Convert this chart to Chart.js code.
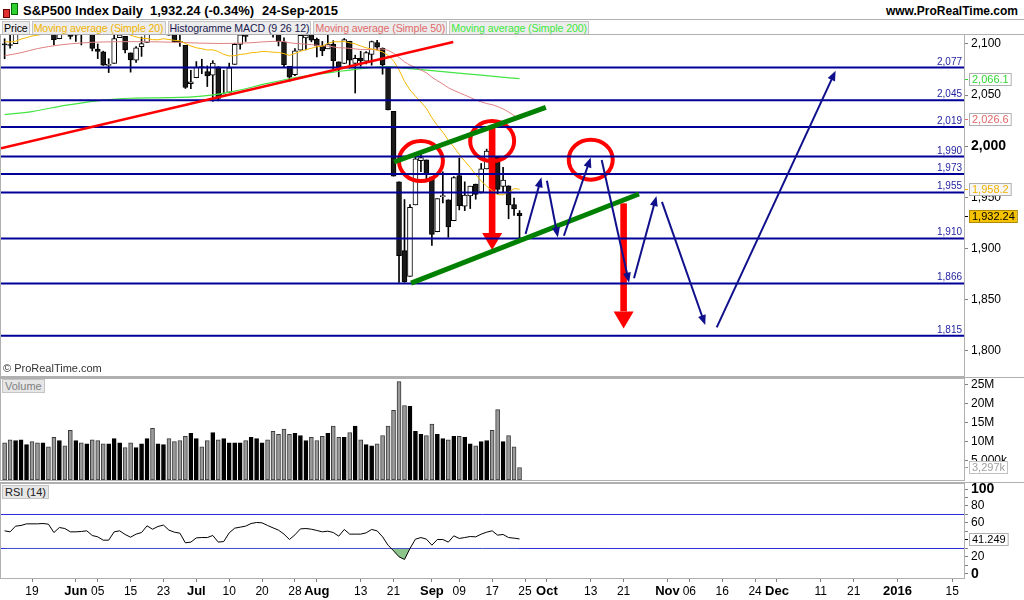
<!DOCTYPE html>
<html>
<head>
<meta charset="utf-8">
<title>S&P500 Index Daily</title>
<script src="https://cdn.jsdelivr.net/npm/chart.js@4.4.1/dist/chart.umd.min.js"></script>
<style>
  body { margin: 0; background: #fff; font-family: "Liberation Sans", Arial, sans-serif; }
  #page { position: relative; width: 1024px; height: 600px; overflow: hidden; background: #fff; }
  #page canvas { position: absolute; left: 0; }
  .hd { position: absolute; top: 3px; font-size: 13px; font-weight: bold; white-space: nowrap; }
  #legend { position: absolute; left: 2px; top: 21px; display: flex; gap: 2px; }
  #legend span { height: 12px; font-size: 10.6px; line-height: 12px; background: #ececec; letter-spacing: -0.1px;
        border: 1px solid #c4c4c4; white-space: nowrap; padding: 0 1px; }
  .frame { position: absolute; border: 1px solid #b0b0b0; pointer-events: none; box-sizing: border-box; }
  .sep { position: absolute; left: 0; width: 1024px; height: 1px; background: #b0b0b0; }
  .tag { position: absolute; left: 2px; font-size: 11px; line-height: 12px; padding: 0 2px; background: #e6e6e6;
         border: 1px solid #c4c4c4; white-space: nowrap; }
</style>
</head>
<body>
<div id="page">
  <!-- header -->
  <div style="position:absolute;left:3px;top:9px;width:5px;height:7px;background:#e03030;border:1px solid #600"></div>
  <div style="position:absolute;left:11px;top:3px;width:5px;height:10px;background:#30d030;border:1px solid #060"></div>
  <div class="hd" style="left:23px">S&amp;P500 Index</div>
  <div class="hd" style="left:112px">Daily</div>
  <div class="hd" style="left:150px">1,932.24 (-0.34%)</div>
  <div class="hd" style="left:262px">24-Sep-2015</div>
  <div class="hd" style="right:6px;top:4px;font-size:12px">www.ProRealTime.com</div>
  <div class="sep" style="top:19px"></div>

  <div id="legend">
    <span style="color:#000">Price</span>
    <span style="color:#f0b400">Moving average (Simple 20)</span>
    <span style="color:#1a1a50">Histogramme MACD (9 26 12)</span>
    <span style="color:#e06a6a">Moving average (Simple 50)</span>
    <span style="color:#40e840">Moving average (Simple 200)</span>
  </div>
  <div class="sep" style="top:34px"></div>

  <canvas id="price" width="1024" height="342" style="top:34px"></canvas>
  <canvas id="vol" width="1024" height="102" style="top:378px"></canvas>
  <canvas id="rsi" width="1024" height="117" style="top:483px"></canvas>

  <div class="frame" style="left:0;top:34px;width:965px;height:343px"></div>
  <div class="sep" style="top:377px"></div>
  <div class="frame" style="left:0;top:378px;width:965px;height:103px"></div>
  <div class="sep" style="top:482px"></div>
  <div class="frame" style="left:0;top:483px;width:965px;height:96px"></div>

  <div class="tag" style="top:379px;color:#808080">Volume</div>
  <div class="tag" style="top:485px;color:#202020">RSI (14)</div>
</div>

<script>
// trading days shown on the axis (Jan 1 2016 is kept by the chart, other holidays are skipped)
const holidays = ['2015-05-25', '2015-07-03', '2015-09-07', '2015-11-26', '2015-12-25'];

const tickDates = ['2015-05-19', '2015-06-01', '2015-06-05', '2015-06-15', '2015-06-23', '2015-07-01', '2015-07-10',
  '2015-07-20', '2015-07-28', '2015-08-03', '2015-08-13', '2015-08-21', '2015-09-01', '2015-09-09', '2015-09-17',
  '2015-09-25', '2015-10-01', '2015-10-13', '2015-10-21', '2015-11-02', '2015-11-06', '2015-11-16', '2015-11-24',
  '2015-12-01', '2015-12-11', '2015-12-21', '2016-01-01', '2016-01-15'];
const tickLabels = ['19', 'Jun', '05', '15', '23', 'Jul', '10', '20', '28', 'Aug', '13', '21', 'Sep', '09', '17',
  '25', 'Oct', '13', '21', 'Nov', '06', '16', '24', 'Dec', '11', '21', '2016', '15'];
const boldLabels = ['Jun', 'Jul', 'Aug', 'Sep', 'Oct', 'Nov', 'Dec', '2016'];

// daily candles, 12-May-2015 .. 24-Sep-2015
const opens = [2099.6, 2099.0, 2100.4, 2122.1, 2121.3, 2129.5, 2127.8, 2125.6, 2130.4, 2125.3,
  2105.1, 2122.3, 2120.7, 2108.6, 2110.4, 2110.6, 2112.4, 2095.1, 2092.3, 2079.1,
  2081.1, 2106.2, 2107.4, 2091.3, 2084.3, 2097.4, 2101.6, 2121.1, 2112.5, 2123.2,
  2123.7, 2110.0, 2102.6, 2098.6, 2061.2, 2067.0, 2078.0, 2073.0, 2069.5, 2077.7,
  2049.7, 2052.7, 2080.0, 2099.7, 2109.0, 2110.6, 2126.8, 2126.9, 2127.3, 2118.2,
  2114.2, 2102.2, 2078.2, 2070.0, 2094.0, 2106.0, 2111.6, 2104.5, 2097.7, 2095.3,
  2100.0, 2082.6, 2080.9, 2102.7, 2081.1, 2086.2, 2083.2, 2089.7, 2101.5, 2095.7,
  2076.6, 2034.1, 1965.2, 1898.1, 1872.8, 1942.8, 1986.1, 1986.7, 1970.1, 1916.5,
  1950.8, 1947.8, 1927.3, 1971.5, 1941.6, 1951.5, 1963.1, 1955.1, 1978.0, 1995.3,
  1989.7, 1960.8, 1961.4, 1943.2, 1934.6];
const highs = [2105.1, 2110.2, 2121.5, 2123.9, 2131.8, 2133.0, 2134.7, 2131.8, 2132.2, 2125.3,
  2126.2, 2122.3, 2120.7, 2119.2, 2117.6, 2121.9, 2112.9, 2100.0, 2093.0, 2085.6,
  2108.5, 2115.0, 2107.4, 2091.3, 2097.4, 2106.8, 2126.7, 2121.6, 2129.9, 2125.1,
  2125.1, 2116.0, 2108.9, 2098.6, 2074.3, 2082.8, 2085.1, 2078.6, 2083.7, 2077.7,
  2074.3, 2081.3, 2100.7, 2111.4, 2114.1, 2124.4, 2128.9, 2132.8, 2128.5, 2119.4,
  2116.9, 2106.0, 2078.2, 2095.6, 2110.6, 2110.5, 2114.2, 2105.7, 2102.5, 2112.7,
  2103.3, 2082.6, 2105.4, 2102.7, 2089.1, 2092.9, 2092.5, 2102.9, 2103.5, 2096.2,
  2076.6, 2034.1, 1965.2, 1948.0, 1943.1, 1989.6, 1993.5, 1986.7, 1970.1, 1948.9,
  1975.0, 1947.8, 1970.4, 1988.6, 1965.3, 1961.1, 1963.1, 1983.2, 1997.3, 2020.9,
  1989.7, 1979.6, 1961.4, 1949.5, 1937.2];
const lows = [2085.6, 2096.0, 2100.4, 2116.8, 2120.0, 2124.5, 2122.6, 2120.9, 2126.1, 2099.2,
  2105.1, 2112.9, 2104.9, 2102.5, 2099.1, 2109.6, 2093.2, 2085.7, 2079.1, 2072.1,
  2081.1, 2106.2, 2091.3, 2072.5, 2082.1, 2087.9, 2101.6, 2109.5, 2112.5, 2119.0,
  2108.6, 2101.8, 2097.7, 2056.6, 2056.3, 2067.0, 2071.0, 2058.4, 2044.0, 2044.5,
  2049.3, 2052.7, 2080.0, 2095.0, 2102.5, 2110.6, 2119.9, 2123.7, 2115.4, 2106.6,
  2098.1, 2077.1, 2063.5, 2069.1, 2094.0, 2094.1, 2102.1, 2087.3, 2088.6, 2095.3,
  2075.5, 2067.9, 2080.9, 2076.5, 2052.1, 2078.3, 2080.6, 2079.3, 2094.1, 2070.5,
  2035.7, 1970.9, 1867.0, 1867.1, 1872.8, 1942.8, 1975.2, 1966.0, 1903.1, 1916.5,
  1944.7, 1911.2, 1927.3, 1937.9, 1937.2, 1939.2, 1948.3, 1954.3, 1977.9, 1986.7,
  1953.5, 1955.8, 1929.2, 1932.6, 1908.9];
const closes = [2099.1, 2098.5, 2121.1, 2122.7, 2129.2, 2127.8, 2125.9, 2130.8, 2126.1, 2104.2,
  2123.5, 2120.8, 2107.4, 2111.7, 2109.6, 2114.1, 2095.8, 2092.8, 2079.3, 2080.2,
  2105.2, 2108.9, 2094.1, 2084.4, 2096.3, 2100.4, 2121.2, 2110.0, 2122.9, 2124.2,
  2108.6, 2102.3, 2101.5, 2057.6, 2063.1, 2077.4, 2076.8, 2068.8, 2081.3, 2046.7,
  2051.3, 2076.6, 2099.6, 2109.0, 2107.4, 2124.3, 2126.6, 2128.3, 2119.2, 2114.2,
  2102.2, 2079.7, 2067.6, 2093.3, 2108.57, 2108.63, 2103.8, 2098.0, 2093.3, 2099.8,
  2083.6, 2077.6, 2104.2, 2084.1, 2086.1, 2083.4, 2091.5, 2102.4, 2096.9, 2079.6,
  2035.7, 1970.9, 1893.2, 1867.6, 1940.5, 1987.7, 1988.9, 1972.2, 1913.9, 1948.9,
  1951.1, 1921.2, 1969.4, 1942.0, 1952.3, 1961.1, 1953.0, 1978.1, 1995.3, 1990.2,
  1958.0, 1967.0, 1942.7, 1938.8, 1932.24];
const prevClose = 2105.3; // close before the first candle

// moving averages
const ma20 = [2102.3, 2101.9, 2102.7, 2104.8, 2106.2, 2107.8, 2108.6, 2109.5, 2110.0, 2109.7,
  2110.2, 2110.9, 2111.9, 2112.1, 2111.9, 2113.1, 2113.9, 2114.1, 2112.3, 2111.0,
  2111.3, 2111.9, 2110.5, 2108.6, 2106.9, 2105.6, 2105.3, 2104.3, 2104.1, 2105.1,
  2104.4, 2103.5, 2103.2, 2100.5, 2098.1, 2096.3, 2095.4, 2094.2, 2094.3, 2092.6,
  2089.9, 2088.3, 2088.6, 2089.8, 2090.3, 2091.5, 2091.8, 2092.7, 2092.5, 2092.0,
  2091.7, 2090.6, 2088.9, 2090.7, 2092.9, 2094.5, 2095.8, 2097.3, 2097.9, 2100.6,
  2102.2, 2102.2, 2102.5, 2101.2, 2100.1, 2098.1, 2096.3, 2095.1, 2093.9, 2092.2,
  2088.9, 2083.5, 2074.7, 2063.5, 2055.1, 2049.0, 2043.3, 2037.0, 2028.0, 2020.4,
  2013.8, 2006.0, 1999.3, 1992.2, 1985.5, 1979.4, 1972.4, 1966.2, 1961.1, 1956.7,
  1952.8, 1952.6, 1955.1, 1958.6, 1958.2];
const ma50Days = [0, 3, 6, 10, 14, 18, 25, 32, 39, 45,
  49, 50, 51, 52, 53, 54, 55, 56, 57, 58, 59, 60, 61, 62, 63, 64, 65, 66, 67, 68, 69, 70, 71,
  72, 73, 74, 75, 76, 77, 78, 79, 80, 81, 82, 83, 84, 85, 86, 87, 88, 89, 90, 91, 92, 93, 94];
const ma50 = [2088.5, 2091.5, 2095.5, 2099.0, 2101.0, 2102.0, 2102.3, 2101.5, 2100.5, 2101.2,
  2102.6, 2102.6, 2102.3, 2101.2, 2100.6, 2100.2, 2099.8, 2099.4, 2098.7, 2098.1, 2098.0, 2097.2,
  2096.3, 2096.2, 2095.7, 2095.2, 2094.6, 2094.5, 2094.7, 2095.1, 2095.1, 2093.7, 2090.9,
  2086.9, 2082.6, 2079.4, 2077.2, 2074.5, 2071.8, 2067.6, 2064.1, 2060.9, 2057.3, 2054.7,
  2052.4, 2050.1, 2047.8, 2045.3, 2043.5, 2041.8, 2040.7, 2038.8, 2036.6, 2033.5, 2030.1, 2026.6];
const ma200Days = [0, 5, 11, 17, 23, 30, 36, 42, 48, 54, 60, 66, 70, 72, 80, 87, 94];
const ma200 = [2031.0, 2034.0, 2040.0, 2044.5, 2047.0, 2047.5, 2049.0, 2054.0, 2061.5, 2068.0,
  2072.5, 2076.5, 2078.0, 2077.0, 2073.0, 2069.5, 2066.1];

// volume (millions) and RSI(14)
const volumes = [9.8, 10.6, 10.4, 10.6, 9.3, 10.1, 9.8, 9.8, 8.7, 11.2,
  10.4, 9.0, 13.1, 10.4, 9.8, 9.5, 10.6, 10.4, 9.5, 9.5,
  10.9, 9.8, 8.5, 9.8, 8.5, 9.5, 10.9, 13.6, 9.5, 9.3,
  10.9, 10.1, 10.4, 11.5, 12.3, 10.9, 8.7, 10.4, 12.5, 10.6,
  10.9, 9.8, 9.8, 9.8, 10.4, 11.2, 10.9, 9.8, 10.6, 12.8,
  12.0, 13.4, 12.0, 12.3, 11.7, 10.4, 11.2, 10.4, 11.5, 12.3,
  14.2, 11.2, 11.2, 12.5, 14.2, 10.6, 9.3, 9.0, 9.5, 11.7,
  14.2, 18.3, 25.9, 19.6, 19.4, 12.8, 12.0, 11.7, 14.7, 12.0,
  10.9, 10.6, 11.5, 11.5, 11.2, 9.5, 9.0, 10.1, 10.4, 13.1,
  18.5, 10.1, 11.7, 8.7, 3.297];
const rsi = [50.8, 49.6, 56.3, 57.1, 59.0, 59.0, 59.0, 59.4, 58.6, 48.8,
  54.7, 53.5, 49.6, 49.6, 50.0, 50.8, 45.3, 43.7, 39.8, 39.8,
  49.6, 50.8, 46.5, 43.3, 46.9, 48.8, 56.7, 52.7, 55.9, 57.5,
  51.6, 49.2, 48.0, 36.7, 37.5, 42.5, 42.9, 42.9, 45.3, 37.5,
  38.2, 48.4, 53.9, 55.1, 56.3, 59.4, 60.6, 60.2, 57.1, 54.3,
  51.6, 46.9, 40.6, 46.1, 53.1, 53.5, 52.7, 51.2, 49.6, 50.4,
  48.8, 44.5, 52.4, 46.9, 46.9, 46.9, 48.4, 52.4, 50.8, 43.7,
  33.9, 27.3, 20.2, 17.1, 30.0, 41.0, 42.9, 41.0, 33.9, 40.6,
  40.6, 37.5, 44.9, 41.8, 42.9, 44.1, 43.7, 46.9, 49.2, 50.8,
  45.7, 46.5, 42.9, 42.2, 41.249];

// axis ticks
const priceTicks = [1800, 1850, 1900, 1950, 2000, 2050, 2100];
const volTicks = [5, 10, 15, 20, 25];
const rsiTicks = [0, 10, 20, 30, 40, 50, 60, 70, 80, 90, 100];

// drawings on the price panel (x = trading-day index, y = price)
const levels = [2077, 2045, 2019, 1990, 1973, 1955, 1910, 1866, 1815];
const redTrend = [[-0.66, 1998.1], [81.9, 2102.0]];
const greenTop = [[71.1, 1984.7], [98.8, 2038.1]];
const greenLow = [[74.2, 1866.4], [115.8, 1953.4]];
const circles = [[76.0, 1985.6], [89.0, 2005.2], [107.0, 1987.0]];
const redArrows = [[89.0, 2020.8, 1898.6], [113.0, 1944.3, 1822.1]];
const blueArrows = [[95.1, 1914.3, 98.0, 1969.7], [99.0, 1966.4, 101.0, 1911.0],
  [102.1, 1912.6, 107.0, 1989.2], [109.0, 1986.6, 114.0, 1866.7], [114.9, 1871.0, 119.0, 1951.4],
  [120.0, 1945.8, 127.9, 1825.3], [130.0, 1823.1, 151.7, 2073.9]];

const X_MIN = -0.66, X_MAX = 175.14;
const FONT = '"Liberation Sans", Arial, sans-serif';

function tradingDays(start, end) {
  const out = [];
  const d = new Date(start + 'T12:00:00Z');
  const stop = new Date(end + 'T12:00:00Z');
  while (d <= stop) {
    const wd = d.getUTCDay();
    const s = d.toISOString().slice(0, 10);
    if (wd !== 0 && wd !== 6 && !holidays.includes(s)) out.push(s);
    d.setUTCDate(d.getUTCDate() + 1);
  }
  return out;
}
const days = tradingDays('2015-05-12', '2016-01-29');
const tickIdx = tickDates.map(t => days.indexOf(t));

const fmt = v => v.toLocaleString('en-US');
const pts = (xs, ys) => ys.map((v, i) => ({x: xs ? xs[i] : i, y: v}));
const seg = p => p.map(([x, y]) => ({x, y}));
const fitRight = s => { s.width = 60; s.paddingTop = 0; s.paddingBottom = 0; };

function valueBox(ctx, y, text, color, bg, border) {
  ctx.font = '11px ' + FONT;
  const w = ctx.measureText(text).width + 5;
  const yy = Math.round(y);
  ctx.fillStyle = color;
  ctx.fillRect(964, yy, 4, 1);
  ctx.fillStyle = bg;
  ctx.fillRect(969, yy - 6, w, 13);
  ctx.strokeStyle = border;
  ctx.lineWidth = 1;
  ctx.strokeRect(969.5, yy - 5.5, w, 12);
  ctx.fillStyle = color;
  ctx.textAlign = 'left';
  ctx.textBaseline = 'middle';
  ctx.fillText(text, 972, yy + 1);
}

function blueArrow(ctx, x0, y0, x1, y1) {
  const a = Math.atan2(y1 - y0, x1 - x0), len = 10, half = 4;
  ctx.strokeStyle = ctx.fillStyle = '#10108c';
  ctx.lineWidth = 2;
  ctx.beginPath();
  ctx.moveTo(x0, y0);
  ctx.lineTo(x1 - Math.cos(a) * len * 0.7, y1 - Math.sin(a) * len * 0.7);
  ctx.stroke();
  ctx.beginPath();
  ctx.moveTo(x1, y1);
  ctx.lineTo(x1 - len * Math.cos(a) + half * Math.sin(a), y1 - len * Math.sin(a) - half * Math.cos(a));
  ctx.lineTo(x1 - len * Math.cos(a) - half * Math.sin(a), y1 - len * Math.sin(a) + half * Math.cos(a));
  ctx.closePath();
  ctx.fill();
}

const priceMarks = {
  id: 'priceMarks',
  afterDatasetDraw(chart, args) {
    if (chart.data.datasets[args.index].label !== 'bodies') return;
    const {ctx, scales: {x, y}} = chart;
    ctx.save();
    ctx.strokeStyle = '#ff0000';
    ctx.lineWidth = 4;
    circles.forEach(([i, p]) => {
      ctx.beginPath();
      ctx.ellipse(x.getPixelForValue(i), y.getPixelForValue(p), 22, 20, 0, 0, Math.PI * 2);
      ctx.stroke();
    });
    ctx.fillStyle = '#ff0000';
    redArrows.forEach(([i, p0, p1]) => {
      const cx = x.getPixelForValue(i), y0 = y.getPixelForValue(p0), y1 = y.getPixelForValue(p1);
      ctx.fillRect(cx - 3.3, y0, 6.6, y1 - y0 - 17);
      ctx.beginPath();
      ctx.moveTo(cx - 10, y1 - 17);
      ctx.lineTo(cx + 10, y1 - 17);
      ctx.lineTo(cx, y1);
      ctx.closePath();
      ctx.fill();
    });
    ctx.restore();
  },
  afterDatasetsDraw(chart) {
    const {ctx, chartArea: a, scales: {x, y}} = chart;
    ctx.save();
    blueArrows.forEach(([i0, p0, i1, p1]) =>
      blueArrow(ctx, x.getPixelForValue(i0), y.getPixelForValue(p0), x.getPixelForValue(i1), y.getPixelForValue(p1)));
    ctx.font = '10px ' + FONT;
    ctx.fillStyle = '#1f1f9f';
    ctx.textAlign = 'right';
    ctx.textBaseline = 'alphabetic';
    levels.forEach(L => ctx.fillText(fmt(L), a.right - 2, Math.round(y.getPixelForValue(L)) - 3));
    ctx.font = '11px ' + FONT;
    ctx.fillStyle = '#333';
    ctx.textAlign = 'left';
    ctx.textBaseline = 'middle';
    ctx.fillText('\u00a9 ProRealTime.com', 3, a.bottom - 7);
    ctx.restore();
  },
  afterDraw(chart) {
    const {ctx, scales: {y}} = chart;
    const last = a => a[a.length - 1];
    const one = v => v.toLocaleString('en-US', {minimumFractionDigits: 1, maximumFractionDigits: 1});
    ctx.save();
    valueBox(ctx, y.getPixelForValue(last(ma200)), one(last(ma200)), '#33d633', '#fff', '#b0b0b0');
    valueBox(ctx, y.getPixelForValue(last(ma50)), one(last(ma50)), '#e06868', '#fff', '#b0b0b0');
    valueBox(ctx, y.getPixelForValue(last(ma20)), one(last(ma20)), '#f0b400', '#f6f6f6', '#b0b0b0');
    valueBox(ctx, y.getPixelForValue(last(closes)),
      last(closes).toLocaleString('en-US', {minimumFractionDigits: 2}), '#000', '#f5c200', '#b08a00');
    ctx.restore();
  }
};

const base = {
  responsive: false,
  animation: false,
  events: [],
  layout: {padding: {left: 1, right: 0, top: 0, bottom: 0}},
  plugins: {legend: {display: false}, tooltip: {enabled: false}}
};
const hiddenX = {type: 'linear', min: X_MIN, max: X_MAX, offset: false, display: false};
const rightGrid = {drawOnChartArea: false, tickLength: 4, tickColor: '#808080'};

new Chart('price', {
  type: 'bar',
  data: {
    datasets: [
      {label: 'wicks', data: closes.map((c, i) => ({x: i, y: [lows[i], highs[i]]})), backgroundColor: '#000',
        barThickness: 1, grouped: false, order: 11, clip: 0},
      {label: 'bodies', data: closes.map((c, i) => ({x: i, y: [opens[i], c]})),
        backgroundColor: closes.map((c, i) => c >= opens[i] ? '#fff' : '#1a1a1a'),
        borderColor: '#000', borderWidth: 1, borderSkipped: false, minBarLength: 1,
        barThickness: 5, grouped: false, order: 10, clip: 0},
      {type: 'line', data: pts(null, ma20), borderColor: '#f5b800', borderWidth: 1, pointRadius: 0, order: 6, clip: 0},
      {type: 'line', data: pts(ma50Days, ma50), borderColor: '#e08080', borderWidth: 1, pointRadius: 0,
        cubicInterpolationMode: 'monotone', order: 6, clip: 0},
      {type: 'line', data: pts(ma200Days, ma200), borderColor: '#44e444', borderWidth: 1.2, pointRadius: 0,
        cubicInterpolationMode: 'monotone', order: 6, clip: 0},
      ...levels.map(L => ({type: 'line', data: [{x: X_MIN, y: L}, {x: X_MAX, y: L}], borderColor: '#000099',
        borderWidth: 2, pointRadius: 0, order: 3, clip: 0})),
      {type: 'line', data: seg(redTrend), borderColor: '#ff0000', borderWidth: 2.5, pointRadius: 0, order: 2, clip: 0},
      {type: 'line', data: seg(greenTop), borderColor: '#008000', borderWidth: 5, pointRadius: 0, order: 2, clip: 0},
      {type: 'line', data: seg(greenLow), borderColor: '#008000', borderWidth: 5, pointRadius: 0, order: 2, clip: 0}
    ]
  },
  options: {
    ...base,
    scales: {
      x: hiddenX,
      y: {
        position: 'right', min: 1775.57, max: 2109.77,
        afterBuildTicks: s => { s.ticks = priceTicks.map(v => ({value: v})); },
        afterFit: fitRight,
        ticks: {
          autoSkip: false, callback: v => fmt(v), color: '#000', padding: 3,
          font: c => c.tick && c.tick.value === 2000 ? {family: FONT, size: 14, weight: 'bold'} : {family: FONT, size: 12}
        },
        grid: rightGrid,
        border: {color: '#b0b0b0'}
      }
    }
  },
  plugins: [priceMarks]
});

new Chart('vol', {
  type: 'bar',
  data: {
    datasets: [{
      data: volumes.map((v, i) => ({x: i, y: v})),
      backgroundColor: closes.map((c, i) => c > (i ? closes[i - 1] : prevClose) ? '#000' : '#9a9a9a'),
      borderColor: closes.map((c, i) => c > (i ? closes[i - 1] : prevClose) ? '#000' : '#3a3a3a'),
      borderWidth: 1, borderSkipped: false, barThickness: 4, grouped: false, clip: 0
    }]
  },
  options: {
    ...base,
    scales: {
      x: hiddenX,
      y: {
        position: 'right', min: 0, max: 26.84,
        afterBuildTicks: s => { s.ticks = volTicks.map(v => ({value: v})); },
        afterFit: fitRight,
        ticks: {autoSkip: false, callback: v => v < 10 ? fmt(v * 1000) + 'k' : v + 'M', color: '#000', padding: 3,
          font: {family: FONT, size: 12}},
        grid: rightGrid,
        border: {color: '#b0b0b0'}
      }
    }
  },
  plugins: [{
    id: 'volBox',
    afterDraw(chart) {
      const v = volumes[volumes.length - 1];
      chart.ctx.save();
      valueBox(chart.ctx, chart.scales.y.getPixelForValue(v), fmt(Math.round(v * 1000)) + 'k', '#a0a0a0', '#fff', '#c0c0c0');
      chart.ctx.restore();
    }
  }]
});

new Chart('rsi', {
  type: 'line',
  data: {
    datasets: [
      {data: pts(null, rsi), borderColor: '#000', borderWidth: 1, pointRadius: 0, clip: 0,
        fill: {target: {value: 30}, above: 'rgba(0,0,0,0)', below: '#8cc48c'}},
      {data: [{x: X_MIN, y: 70}, {x: X_MAX, y: 70}], borderColor: '#2a2ae0', borderWidth: 1, pointRadius: 0, clip: 0},
      {data: [{x: X_MIN, y: 30}, {x: X_MAX, y: 30}], borderColor: '#2a2ae0', borderWidth: 1, pointRadius: 0, clip: 0}
    ]
  },
  options: {
    ...base,
    scales: {
      x: {
        type: 'linear', min: X_MIN, max: X_MAX, offset: false,
        afterBuildTicks: s => { s.ticks = tickIdx.map(v => ({value: v})); },
        afterFit: s => { s.height = 22; s.paddingLeft = 0; s.paddingRight = 0; },
        ticks: {
          autoSkip: false, maxRotation: 0, color: '#000', padding: 2,
          callback: v => tickLabels[tickIdx.indexOf(v)],
          font: c => {
            const lab = c.tick ? tickLabels[tickIdx.indexOf(c.tick.value)] : '';
            return boldLabels.includes(lab) ? {family: FONT, size: 13, weight: 'bold'} : {family: FONT, size: 12};
          }
        },
        grid: {drawOnChartArea: false, tickLength: 4, tickColor: '#808080'},
        border: {color: '#b0b0b0'}
      },
      y: {
        position: 'right', min: -4.71, max: 107.06,
        afterBuildTicks: s => { s.ticks = rsiTicks.map(v => ({value: v})); },
        afterFit: fitRight,
        ticks: {
          autoSkip: false, callback: v => v % 20 === 0 ? String(v) : '', color: '#000', padding: 3,
          font: c => c.tick && (c.tick.value === 0 || c.tick.value === 100)
            ? {family: FONT, size: 14, weight: 'bold'} : {family: FONT, size: 12}
        },
        grid: rightGrid,
        border: {color: '#b0b0b0'}
      }
    }
  },
  plugins: [{
    id: 'rsiBox',
    afterDraw(chart) {
      const v = rsi[rsi.length - 1];
      chart.ctx.save();
      valueBox(chart.ctx, chart.scales.y.getPixelForValue(v), v.toFixed(3), '#000', '#fff', '#b0b0b0');
      chart.ctx.restore();
    }
  }]
});
</script>
</body>
</html>
